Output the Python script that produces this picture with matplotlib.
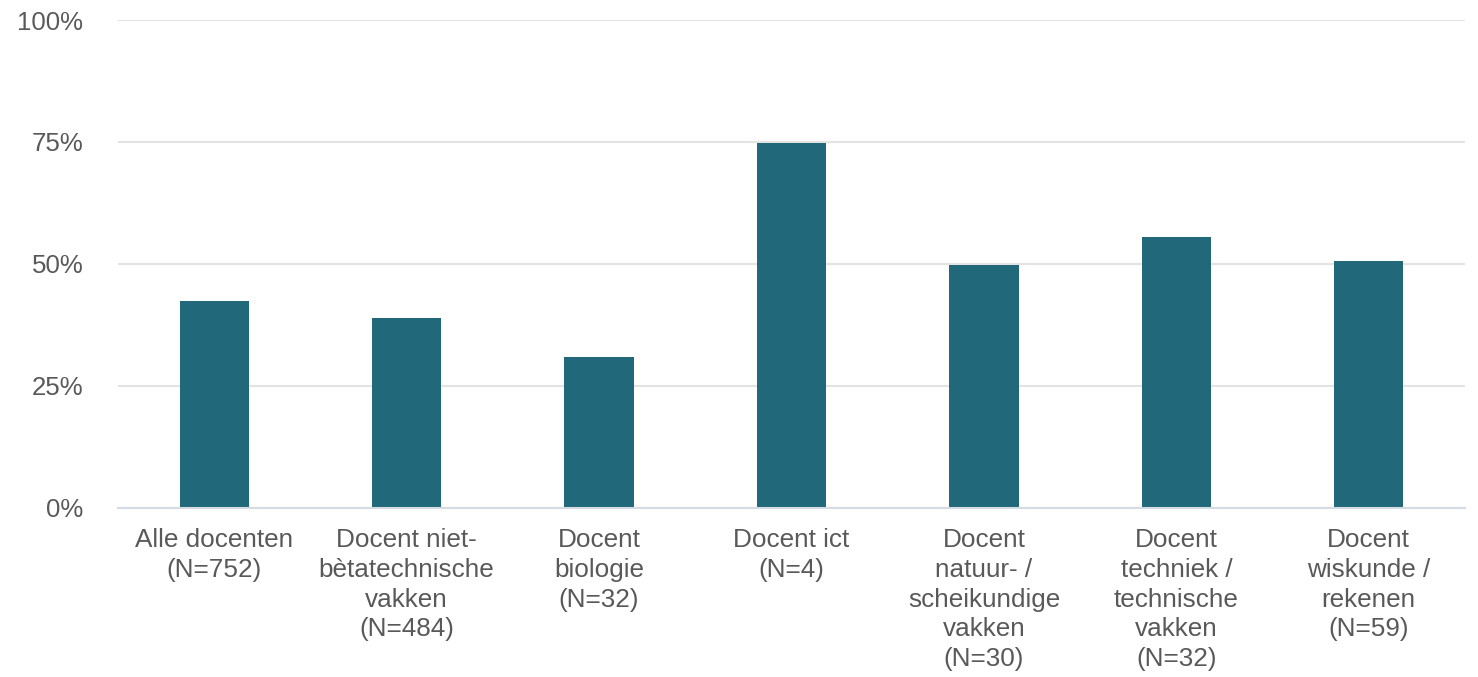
import matplotlib.pyplot as plt
from matplotlib.ticker import FuncFormatter

plt.rcParams['font.family'] = ['Liberation Sans', 'DejaVu Sans']

categories = [
    "Alle docenten\n(N=752)",
    "Docent niet-\nbètatechnische\nvakken\n(N=484)",
    "Docent\nbiologie\n(N=32)",
    "Docent ict\n(N=4)",
    "Docent\nnatuur- /\nscheikundige\nvakken\n(N=30)",
    "Docent\ntechniek /\ntechnische\nvakken\n(N=32)",
    "Docent\nwiskunde /\nrekenen\n(N=59)",
]
values = [42.4, 38.8, 30.8, 74.8, 49.7, 55.5, 50.6]
y_ticks = [0, 25, 50, 75, 100]

bar_color = '#20687a'
text_color = '#595959'

fig = plt.figure(figsize=(14.78, 6.77), dpi=100)
ax = fig.add_axes([118 / 1478, (677 - 507.5) / 677, (1465 - 118) / 1478, (507.5 - 20) / 677])

x = range(len(categories))
ax.bar(x, values, width=0.36, color=bar_color, zorder=3)

ax.set_ylim(0, 100)
ax.set_xlim(-0.5, len(categories) - 0.5)
ax.set_yticks(y_ticks)
ax.yaxis.set_major_formatter(FuncFormatter(lambda v, p: f"{v:.0f}%"))
ax.set_xticks(list(x))
ax.set_xticklabels(categories, linespacing=1.3)

ax.grid(axis='y', color='#e3e3e3', linewidth=1.5, zorder=0)
for s in ['top', 'right', 'left']:
    ax.spines[s].set_visible(False)
ax.spines['bottom'].set_color('#d5dbe3')
ax.spines['bottom'].set_linewidth(1.5)
ax.spines['bottom'].set_zorder(4)

ax.tick_params(axis='y', length=0, pad=25, labelsize=18.6, labelcolor=text_color)
ax.tick_params(axis='x', length=0, pad=15, labelsize=18.8, labelcolor=text_color)

fig.savefig('out.png', dpi=100)
